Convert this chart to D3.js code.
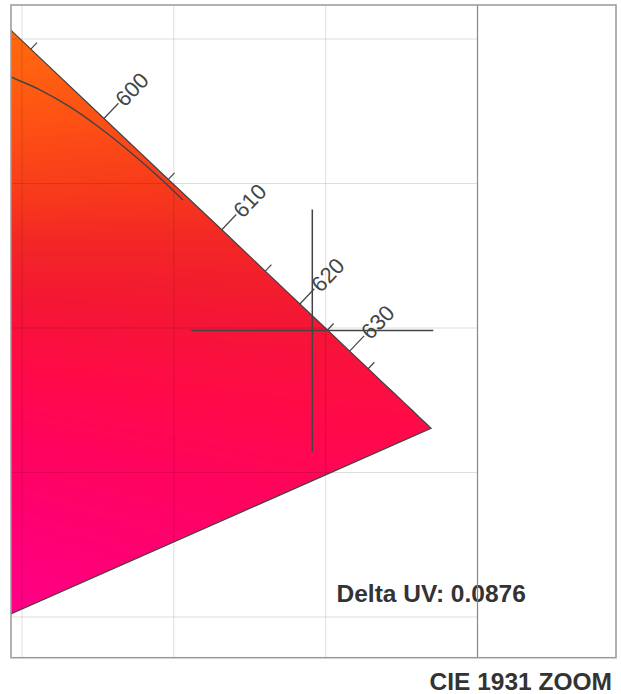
<!DOCTYPE html>
<html>
<head>
<meta charset="utf-8">
<script src="https://cdn.jsdelivr.net/npm/d3@7"></script>
<style>
  html, body { margin: 0; padding: 0; background: #fff; }
  svg { display: block; font-family: Arial, "Liberation Sans", sans-serif; }
</style>
</head>
<body>
<div id="main"></div>
<script>
// spectral locus, CIE 1931 2 deg
const wavelengths = [585, 590, 595, 600, 605, 610, 615, 620, 625, 630, 635, 640, 645, 650, 655, 660, 665, 670, 680, 690, 700];
const locusX = [0.5448, 0.5752, 0.6029, 0.6270, 0.6482, 0.6658, 0.6801, 0.6915, 0.7006, 0.7079, 0.7140, 0.7190, 0.7230, 0.7260, 0.7283, 0.7300, 0.7311, 0.7320, 0.7334, 0.7344, 0.7347];
const locusY = [0.4544, 0.4242, 0.3965, 0.3725, 0.3514, 0.3340, 0.3197, 0.3083, 0.2993, 0.2920, 0.2859, 0.2809, 0.2770, 0.2740, 0.2717, 0.2700, 0.2689, 0.2680, 0.2666, 0.2656, 0.2653];
const purpleEnd = [0.1741, 0.0050]; // 380 nm
const whitePoint = [0.3127, 0.3290];

// planckian locus
const planckX = [0.5944, 0.5964, 0.6059, 0.6158, 0.6257, 0.6356, 0.6454, 0.6530];
const planckY = [0.3879, 0.3869, 0.3824, 0.3765, 0.3692, 0.3609, 0.3519, 0.3443];

const tickWavelengths = [595, 600, 605, 610, 615, 620, 625, 630, 635];
const labelWavelengths = [600, 610, 620, 630];

const gridX = [0.60, 0.65, 0.70];
const gridY = [0.40, 0.35, 0.30, 0.25, 0.20];

const testPoint = [0.6956, 0.2991];
const deltaUV = 0.0876;

// fill colour by hue angle around the white point
const hueAngles = [16, 12, 7, 3, 0, -4, -8.6, -13, -19, -25];
const hueColors = ['#ff6c0c', '#ff6210', '#fc4c16', '#f7381c', '#f22626', '#f41634', '#ff0a48', '#ff045c', '#ff0074', '#ff008c'];

const W = 621, H = 694;
const pLeft = 11, pRight = 477.5, pTop = 5, pBottom = 657.7;

const x = d3.scaleLinear().domain([0.60, 0.75]).range([22, 477.5]);
const y = d3.scaleLinear().domain([0.40, 0.20]).range([39, 617]);
const hue = d3.scaleLinear().domain(hueAngles).range(hueColors).clamp(true);

const svg = d3.select('#main').
append('svg').
attr('width', W).
attr('height', H);

const defs = svg.append('defs');

defs.append('clipPath').
attr('id', 'plotClip').
append('rect').
attr('x', pLeft).
attr('y', pTop).
attr('width', pRight - pLeft).
attr('height', pBottom - pTop);

const locus = wavelengths.map((w, i) => [locusX[i], locusY[i]]);
const polygon = locus.concat([purpleEnd]);

defs.append('clipPath').
attr('id', 'locusClip').
append('path').
attr('d', 'M' + polygon.map(p => x(p[0]) + ',' + y(p[1])).join('L') + 'Z');

const cw = Math.ceil(pRight - pLeft), ch = Math.ceil(pBottom - pTop);
const canvas = document.createElement('canvas');
canvas.width = cw;
canvas.height = ch;
const ctx = canvas.getContext('2d');
const img = ctx.createImageData(cw, ch);
for (let j = 0; j < ch; j++) {
  const cy = y.invert(pTop + j + 0.5);
  for (let i = 0; i < cw; i++) {
    const cx = x.invert(pLeft + i + 0.5);
    const a = Math.atan2(cy - whitePoint[1], cx - whitePoint[0]) * 180 / Math.PI;
    const c = d3.rgb(hue(a));
    const k = (j * cw + i) * 4;
    img.data[k] = c.r;
    img.data[k + 1] = c.g;
    img.data[k + 2] = c.b;
    img.data[k + 3] = 255;
  }
}
ctx.putImageData(img, 0, 0);

const plot = svg.append('g').
attr('clip-path', 'url(#plotClip)');

plot.append('g').
attr('clip-path', 'url(#locusClip)').
append('image').
attr('x', pLeft).
attr('y', pTop).
attr('width', cw).
attr('height', ch).
attr('href', canvas.toDataURL());

// grid
plot.selectAll('.gx').
data(gridX).
enter().
append('line').
attr('x1', d => x(d)).
attr('x2', d => x(d)).
attr('y1', pTop).
attr('y2', pBottom).
attr('stroke', 'rgba(0,0,0,0.13)').
attr('stroke-width', 1);

plot.selectAll('.gy').
data(gridY).
enter().
append('line').
attr('x1', pLeft).
attr('x2', pRight).
attr('y1', d => y(d)).
attr('y2', d => y(d)).
attr('stroke', 'rgba(0,0,0,0.13)').
attr('stroke-width', 1);

// outline
const line = d3.line().x(d => x(d[0])).y(d => y(d[1]));

plot.append('path').
attr('d', line(polygon)).
attr('fill', 'none').
attr('stroke', '#444').
attr('stroke-width', 1.2);

plot.append('path').
attr('d', d3.line().x(d => x(d[0])).y(d => y(d[1])).curve(d3.curveMonotoneX)(planckX.map((v, i) => [v, planckY[i]]))).
attr('fill', 'none').
attr('stroke', '#444').
attr('stroke-width', 1.5);

// wavelength ticks
const ticks = tickWavelengths.map(w => {
  const i = wavelengths.indexOf(w);
  const px = x(locusX[i]), py = y(locusY[i]);
  const dx = x(locusX[i + 1]) - x(locusX[i - 1]);
  const dy = y(locusY[i + 1]) - y(locusY[i - 1]);
  const len = Math.sqrt(dx * dx + dy * dy);
  const nx = dy / len, ny = -dx / len;
  const labeled = labelWavelengths.includes(w);
  const tl = labeled ? 21 : 9;
  return { w, px, py, nx, ny, tl, labeled };
});

plot.selectAll('.tick').
data(ticks).
enter().
append('line').
attr('x1', d => d.px).
attr('y1', d => d.py).
attr('x2', d => d.px + d.nx * d.tl).
attr('y2', d => d.py + d.ny * d.tl).
attr('stroke', '#444').
attr('stroke-width', 1.2);

plot.selectAll('.tlabel').
data(ticks.filter(d => d.labeled)).
enter().
append('text').
attr('transform', d => 'translate(' + (d.px + d.nx * (d.tl + 1)) + ',' + (d.py + d.ny * (d.tl + 1)) + ') rotate(' + (Math.atan2(d.ny, d.nx) * 180 / Math.PI) + ')').
attr('dy', '0.36em').
attr('font-size', '22px').
attr('fill', '#444').
text(d => d.w);

// test point crosshair
const cross = 121;
const tx = x(testPoint[0]), ty = y(testPoint[1]);
plot.append('line').
attr('x1', tx - cross).
attr('x2', tx + cross).
attr('y1', ty).
attr('y2', ty).
attr('stroke', '#444').
attr('stroke-width', 1.5);
plot.append('line').
attr('x1', tx).
attr('x2', tx).
attr('y1', ty - cross).
attr('y2', ty + cross).
attr('stroke', '#444').
attr('stroke-width', 1.5);

svg.append('text').
attr('x', 336.5).
attr('y', 601.5).
attr('font-size', '24.5px').
attr('font-weight', 'bold').
attr('fill', '#333').
text('Delta UV: ' + deltaUV.toFixed(4));

// frames
svg.append('line').
attr('x1', pRight).
attr('x2', pRight).
attr('y1', pTop).
attr('y2', pBottom).
attr('stroke', '#888').
attr('stroke-width', 1.2);

svg.append('rect').
attr('x', pLeft).
attr('y', pTop).
attr('width', 616 - pLeft).
attr('height', pBottom - pTop).
attr('fill', 'none').
attr('stroke', '#999').
attr('stroke-width', 1.5);

svg.append('text').
attr('x', 612).
attr('y', 690).
attr('text-anchor', 'end').
attr('font-size', '24.5px').
attr('font-weight', 'bold').
attr('fill', '#333').
text('CIE 1931 ZOOM');
</script>
</body>
</html>
